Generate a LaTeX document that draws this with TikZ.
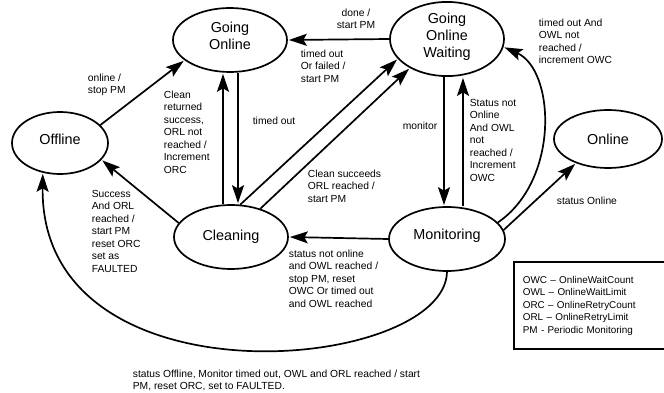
\documentclass[tikz,border=0pt]{standalone}
\usepackage{fontspec}
\setmainfont{Liberation Sans}
\usetikzlibrary{arrows.meta,shapes.geometric}

\begin{document}
\begin{tikzpicture}[x=1pt,y=-1pt,>={Stealth[length=18pt,width=12pt,inset=3.5pt]},line width=1.7pt,
  state node/.style={ellipse,draw,inner sep=0pt,minimum width=114pt,minimum height=64pt,align=center,font=\fontsize{14.4}{17}\selectfont},
  label node/.style={inner sep=0pt,anchor=north west,align=left,font=\fontsize{10.3}{12.5}\selectfont},
  key node/.style={anchor=north west,text width=160pt,inner xsep=8pt,inner ysep=13pt,align=left,font=\fontsize{9.9}{12.5}\selectfont}]
  \useasboundingbox (0,0) rectangle (664,393);
  \node[state node,text depth=8pt] (go)  at (230,40) {Going\\Online};
  \node[state node,text depth=8pt] (gow) at (447,39) {Going\\Online\\Waiting};
  \node[state node,minimum width=96pt,minimum height=62pt,text depth=8pt] (off) at (60,143) {Offline};
  \node[state node,minimum width=108pt,minimum height=58pt] (on) at (608,139) {Online};
  \node[state node] (cln) at (231,237) {Cleaning};
  \node[state node,minimum width=116pt,text depth=10pt] (mon) at (447,239) {Monitoring};

  \node[label node] (t1) at (87,73) {online /\\stop PM};
  \node[label node,anchor=north,align=center] (t2) at (356,8) {done /\\start PM};
  \node[label node] (t3) at (300,49) {timed out\\Or failed /\\start PM};
  \node[label node] (t4) at (252,116) {timed out};
  \node[label node] (t5) at (163,90) {Clean\\returned\\success,\\ORL not\\reached /\\Increment\\ORC};
  \node[label node] (t6) at (307,169) {Clean succeeds\\ORL reached /\\start PM};
  \node[label node] (t7) at (91,189) {Success\\And ORL\\reached /\\start PM\\reset ORC\\set as\\FAULTED};
  \node[label node] (t8) at (288,249) {status not online\\and OWL reached /\\stop PM, reset\\OWC Or timed out\\and OWL reached};
  \node[label node] (t9) at (402,121) {monitor};
  \node[label node] (t10) at (469,98) {Status not\\Online\\And OWL\\not\\reached /\\Increment\\OWC};
  \node[label node] (t11) at (538,18) {timed out And\\OWL not\\reached /\\increment OWC};
  \node[label node] (t12) at (556,196) {status Online};
  \node[label node] (t13) at (132,369) {status Offline, Monitor timed out, OWL and ORL reached / start\\PM, reset ORC, set to FAULTED.};
  \node[key node] (key) at (514,262) {OWC – OnlineWaitCount\\OWL – OnlineWaitLimit\\ORC – OnlineRetryCount\\ORL – OnlineRetryLimit\\PM - Periodic Monitoring};
  \draw (key.north east) -- (key.north west) -- (key.south west) -- (key.south east);

  \path[->,shorten >=1pt]
    (off.24) edge (go.204)
    (gow.west) edge (go.east)
    ([xshift=8]go.south) edge ([xshift=7]cln.north)
    ([xshift=-8]cln.north) edge ([xshift=-7]go.south)
    (cln.74) edge (gow.202)
    (cln.44) edge (gow.218)
    (cln.165) edge (off.338)
    (mon.west) edge (cln.east)
    ([xshift=-3]gow.south) edge ([xshift=-3]mon.north)
    ([xshift=16]mon.north) edge ([xshift=16]gow.south)
    (mon.9) edge (on.217);
  \draw[->,shorten >=1pt] (mon.18) .. controls (560,180) and (555,70) .. (gow.352);
  \draw[->,shorten >=1pt] (mon.south) .. controls (445,372) and (40,410) .. (off.240);
\end{tikzpicture}
\end{document}
